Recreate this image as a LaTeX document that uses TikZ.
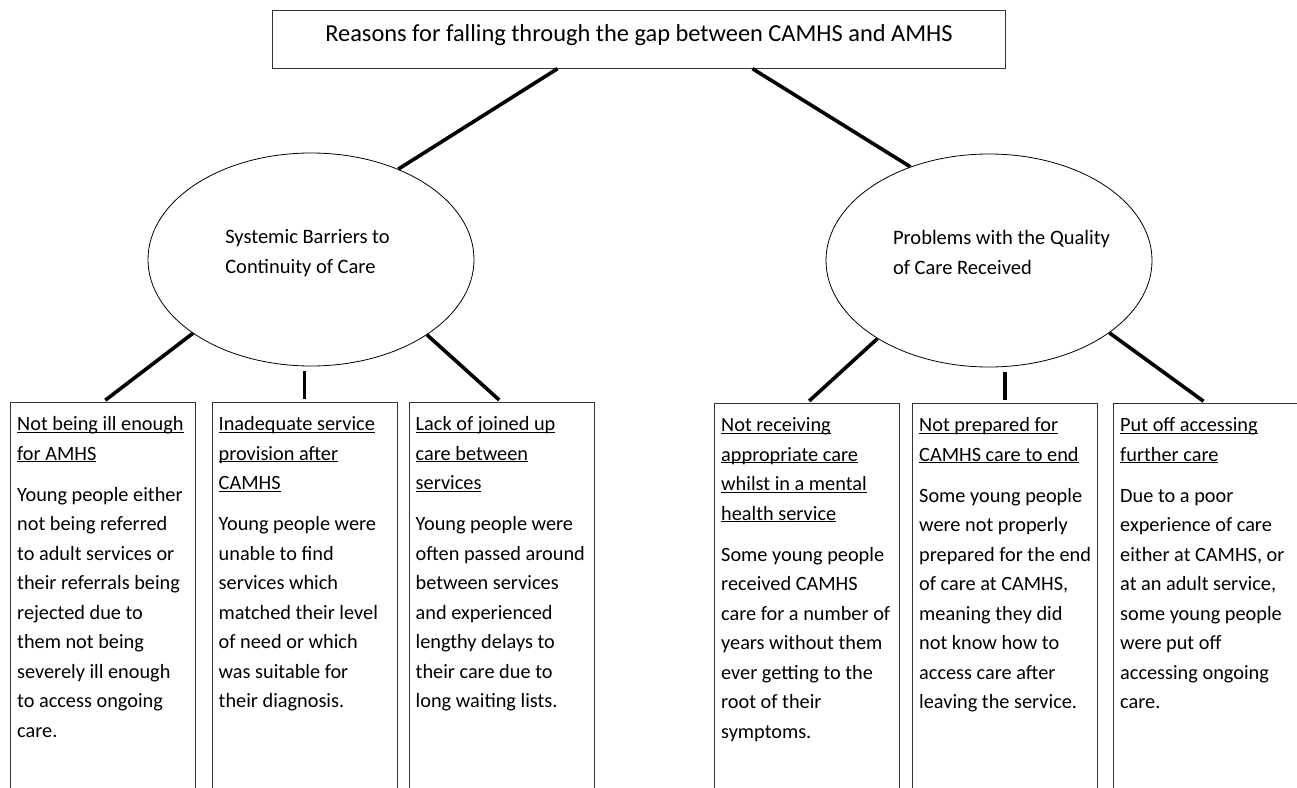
\documentclass[tikz,border=0pt]{standalone}
\usepackage{fontspec}
\setmainfont{Carlito}
\usepackage{tikz}
\usetikzlibrary{shapes.geometric}

\newlength\hdwd
\newcommand\hdline[1]{\leavevmode\settowidth\hdwd{#1}\rlap{\rule[-2pt]{\hdwd}{0.9pt}}#1}

\begin{document}
\begin{tikzpicture}[x=1pt, y=-1pt,
  frame/.style={draw=black!80, line width=0.9pt, anchor=north west, minimum width=185pt, minimum height=420pt, inner sep=0pt},
  boxtext/.style={anchor=north west, text width=178pt, align=flush left, inner sep=0pt, text height=28.5pt, font=\fontsize{20.3}{29.5}\selectfont},
  ellip/.style={ellipse, draw, line width=0.8pt, minimum width=326pt, minimum height=213pt, inner sep=0pt, text height=10pt, text depth=42pt, font=\fontsize{20.5}{29.5}\selectfont},
  link/.style={line width=3.6pt, shorten >=3pt}]
\useasboundingbox (0,0) rectangle (1297,787);
\fill[white] (0,0) rectangle (1297,787);
\clip (0,0) rectangle (1297,787);

\node[draw=black!80, line width=1pt, anchor=north west, minimum width=733pt, inner sep=0pt, text height=30.7pt, text depth=27pt, font=\fontsize{24.4}{29}\selectfont] (title) at (272,10) {Reasons for falling through the gap between CAMHS and AMHS};

\node[ellip] (sys) at (311,259.5) {\begin{tabular}[t]{@{\hspace{-3.5pt}}l@{\hspace{3.5pt}}}Systemic Barriers to\\Continuity of Care\end{tabular}};
\node[ellip] (qual) at (989,260.5) {\begin{tabular}[t]{@{\hspace{12.5pt}}l@{\hspace{-12.5pt}}}Problems with the Quality\\of Care Received\end{tabular}};

\node[frame] (box1) at (10,402) {};
\node[frame] (box2) at (211.5,402) {};
\node[frame] (box3) at (408.5,402) {};
\node[frame] (box4) at (714,403) {};
\node[frame] (box5) at (912,403) {};
\node[frame] (box6) at (1113,403) {};

\node[boxtext] (txt1) at ([xshift=7pt]box1.north west) {\hdline{Not being ill enough}\\\hdline{for AMHS}\\[11.5pt]
Young people either\\not being referred\\to adult services or\\their referrals being\\rejected due to\\them not being\\severely ill enough\\to access ongoing\\care.};
\node[boxtext] (txt2) at ([xshift=7pt]box2.north west) {\hdline{Inadequate service}\\\hdline{provision after}\\\hdline{CAMHS}\\[11.5pt]
Young people were\\unable to find\\services which\\matched their level\\of need or which\\was suitable for\\their diagnosis.};
\node[boxtext] (txt3) at ([xshift=7pt]box3.north west) {\hdline{Lack of joined up}\\\hdline{care between}\\\hdline{services}\\[11.5pt]
Young people were\\often passed around\\between services\\and experienced\\lengthy delays to\\their care due to\\long waiting lists.};
\node[boxtext] (txt4) at ([xshift=7pt]box4.north west) {\hdline{Not receiving}\\\hdline{appropriate care}\\\hdline{whilst in a mental}\\\hdline{health service}\\[11.5pt]
Some young people\\received CAMHS\\care for a number of\\years without them\\ever getting to the\\root of their\\symptoms.};
\node[boxtext] (txt5) at ([xshift=7pt]box5.north west) {\hdline{Not prepared for}\\\hdline{CAMHS care to end}\\[11.5pt]
Some young people\\were not properly\\prepared for the end\\of care at CAMHS,\\meaning they did\\not know how to\\access care after\\leaving the service.};
\node[boxtext] (txt6) at ([xshift=7pt]box6.north west) {\hdline{Put off accessing}\\\hdline{further care}\\[11.5pt]
Due to a poor\\experience of care\\either at CAMHS, or\\at an adult service,\\some young people\\were put off\\accessing ongoing\\care.};

\draw[line width=3.6pt] ([xshift=-81.5pt]title.south) -- (sys.46.8);
\draw[line width=3.6pt] ([xshift=113.5pt]title.south) -- (qual.130);
\draw[link] (sys.212.8) -- (box1.north);
\draw[link, shorten <=5pt] (sys.south -| box2.north) -- (box2.north);
\draw[link] (sys.-33) -- (box3.north);
\draw[link] (qual.215) -- (box4.north);
\draw[link, shorten <=5pt] (qual.south -| box5.north) -- (box5.north);
\draw[link] (qual.-31) -- (box6.north);
\end{tikzpicture}
\end{document}
